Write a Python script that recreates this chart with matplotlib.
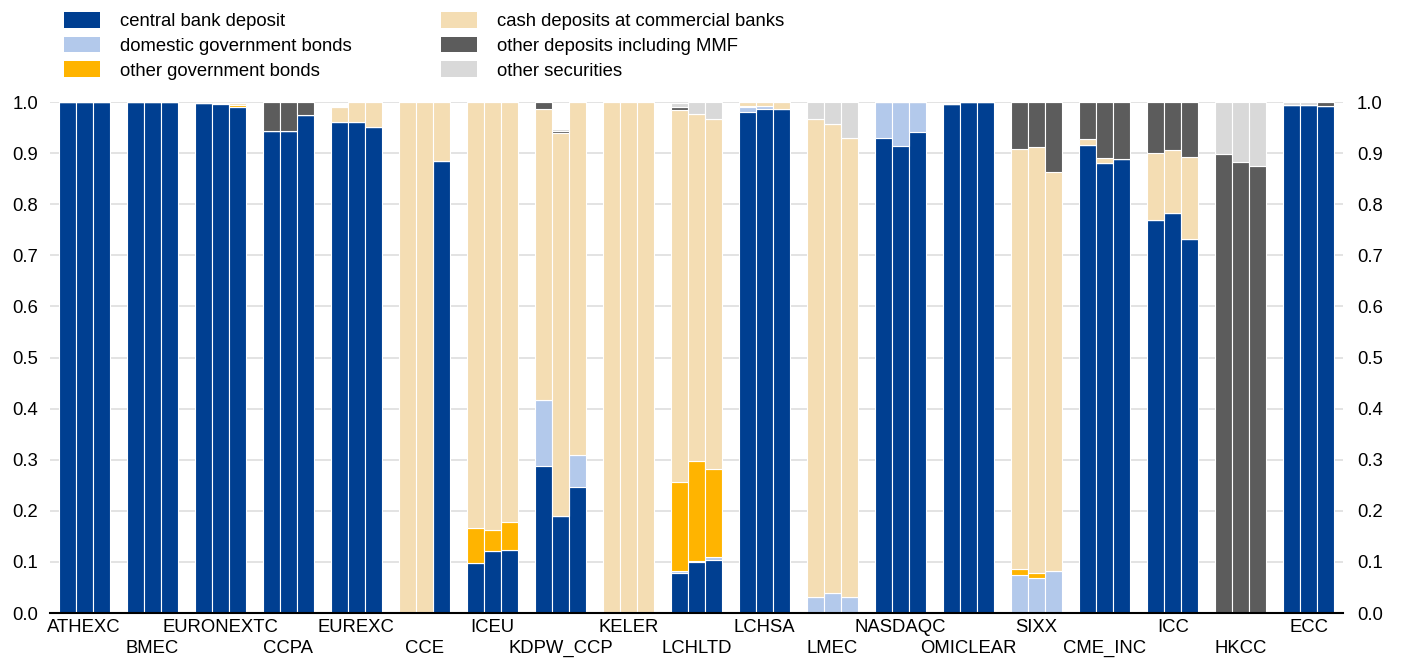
import numpy as np
import matplotlib
matplotlib.use("Agg")
import matplotlib.pyplot as plt
from matplotlib.patches import Patch

plt.rcParams['font.family'] = ['Liberation Sans', 'DejaVu Sans']

# categories (three bars per CCP)
ccps = ['ATHEXC', 'BMEC', 'EURONEXTC', 'CCPA', 'EUREXC', 'CCE', 'ICEU', 'KDPW_CCP',
        'KELER', 'LCHLTD', 'LCHSA', 'LMEC', 'NASDAQC', 'OMICLEAR', 'SIXX', 'CME_INC',
        'ICC', 'HKCC', 'ECC']

# shares, three values per CCP, in the order of ccps
central_bank = [1, 1, 1, 1, 1, 1, 0.998, 0.997, 0.990, 0.944, 0.944, 0.975,
                0.960, 0.960, 0.952, 0, 0, 0.884, 0.097, 0.121, 0.123,
                0.288, 0.190, 0.247, 0, 0, 0, 0.078, 0.100, 0.103,
                0.980, 0.987, 0.987, 0, 0, 0, 0.929, 0.914, 0.941,
                0.996, 1, 1, 0, 0, 0, 0.915, 0.880, 0.888,
                0.769, 0.782, 0.731, 0, 0, 0, 0.994, 0.994, 0.993]
domestic_gov = [0, 0, 0, 0, 0, 0, 0, 0, 0, 0, 0, 0,
                0, 0, 0, 0, 0, 0, 0, 0, 0,
                0.128, 0, 0.062, 0, 0, 0, 0.005, 0.002, 0.006,
                0.010, 0.006, 0, 0.032, 0.040, 0.031, 0.071, 0.086, 0.059,
                0, 0, 0, 0.075, 0.068, 0.083, 0, 0, 0,
                0, 0, 0, 0, 0, 0, 0, 0, 0]
other_gov = [0, 0, 0, 0, 0, 0, 0, 0.002, 0.005, 0, 0, 0,
             0, 0, 0, 0, 0, 0, 0.069, 0.041, 0.056,
             0, 0, 0, 0, 0, 0, 0.174, 0.196, 0.172,
             0.003, 0, 0, 0, 0, 0, 0, 0, 0,
             0, 0, 0, 0.012, 0.011, 0, 0, 0, 0,
             0, 0, 0, 0, 0, 0, 0, 0, 0]
cash_commercial = [0, 0, 0, 0, 0, 0, 0, 0, 0.004, 0, 0, 0,
                   0.030, 0.040, 0.048, 1, 1, 0.116, 0.834, 0.838, 0.821,
                   0.570, 0.750, 0.691, 1, 1, 1, 0.728, 0.678, 0.686,
                   0.007, 0.007, 0.013, 0.935, 0.916, 0.898, 0, 0, 0,
                   0, 0, 0, 0.821, 0.833, 0.780, 0.012, 0.010, 0,
                   0.132, 0.125, 0.162, 0, 0, 0, 0, 0, 0]
other_deposits = [0, 0, 0, 0, 0, 0, 0, 0, 0, 0.056, 0.056, 0.025,
                  0, 0, 0, 0, 0, 0, 0, 0, 0,
                  0.014, 0.004, 0, 0, 0, 0, 0.005, 0, 0,
                  0, 0, 0, 0, 0, 0, 0, 0, 0,
                  0, 0, 0, 0.092, 0.088, 0.137, 0.073, 0.110, 0.112,
                  0.099, 0.093, 0.107, 0.898, 0.882, 0.875, 0, 0, 0.007]
other_securities = [0, 0, 0, 0, 0, 0, 0, 0, 0, 0, 0, 0,
                    0, 0, 0, 0, 0, 0, 0, 0, 0,
                    0, 0.003, 0, 0, 0, 0, 0.009, 0.024, 0.033,
                    0, 0, 0, 0.033, 0.044, 0.071, 0, 0, 0,
                    0, 0, 0, 0, 0, 0, 0, 0, 0,
                    0, 0, 0, 0.102, 0.118, 0.125, 0.006, 0.006, 0]

series = [
    ('central bank deposit', central_bank, '#003f91'),
    ('domestic government bonds', domestic_gov, '#b3c9eb'),
    ('other government bonds', other_gov, '#ffb400'),
    ('cash deposits at commercial banks', cash_commercial, '#f4ddb3'),
    ('other deposits including MMF', other_deposits, '#5c5c5c'),
    ('other securities', other_securities, '#d9d9d9'),
]

fs = 13.3
n = len(ccps)
width = 0.25
xpos = np.array([i + (j - 1) * width for i in range(n) for j in range(3)])

fig = plt.figure(figsize=(14.01, 6.59), dpi=100)
ax = fig.add_axes([0.0357, 0.0698, 0.9229, 0.7754])

bottom = np.zeros(len(xpos))
for name, vals, col in series:
    vals = np.array(vals, dtype=float)
    ax.bar(xpos, vals, width=width, bottom=bottom, color=col,
           edgecolor='white', linewidth=0.8, zorder=3)
    bottom += vals

yticks = np.arange(0, 1.01, 0.1)
ylabels = [f'{v:.1f}' for v in yticks]
ax.set_xlim(-0.5, n - 0.5)
ax.set_ylim(0, 1.0)
ax.set_yticks(yticks)
ax.set_yticklabels(ylabels)
ax.yaxis.grid(True, color='#dedede', linewidth=1.2, zorder=0)
ax.set_axisbelow(True)

# alternate x labels on two rows
ax.set_xticks(range(0, n, 2))
ax.set_xticklabels(ccps[0::2])
ax.set_xticks(range(1, n, 2), minor=True)
ax.set_xticklabels(ccps[1::2], minor=True)

# right-hand axis labels
ax2 = ax.twinx()
ax2.set_ylim(0, 1.0)
ax2.set_yticks(yticks)
ax2.set_yticklabels(ylabels)

for a in (ax, ax2):
    for s in ['top', 'left', 'right']:
        a.spines[s].set_visible(False)
ax2.spines['bottom'].set_visible(False)
ax.spines['bottom'].set_linewidth(1.5)
ax.spines['bottom'].set_zorder(5)

ax.tick_params(axis='x', which='major', length=0, pad=4, labelsize=fs)
ax.tick_params(axis='x', which='minor', length=0, pad=19.5, labelsize=fs)
ax.tick_params(axis='y', length=0, pad=8.5, labelsize=fs)
ax2.tick_params(axis='y', length=0, pad=10, labelsize=fs)

handles = [Patch(facecolor=col, edgecolor='none', label=name)
           for name, vals, col in series]
fig.legend(handles=handles, ncol=2, loc='upper left',
           bbox_to_anchor=(0.0407, 0.9926), frameon=False, fontsize=fs,
           handlelength=1.95, handleheight=0.92, handletextpad=1.08,
           labelspacing=0.35, columnspacing=4.8, borderaxespad=0)

fig.savefig('out.png', dpi=100)
